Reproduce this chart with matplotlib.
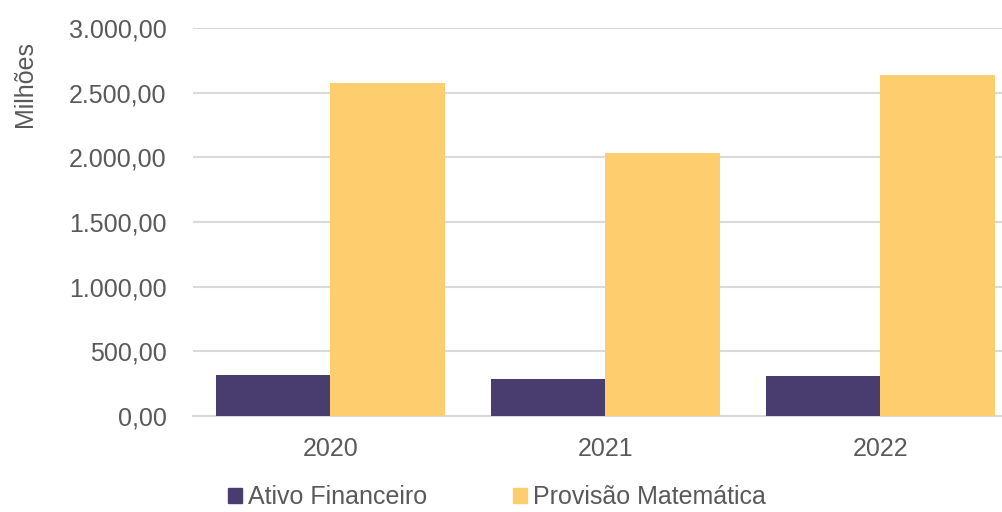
import matplotlib
matplotlib.use("Agg")
import matplotlib.pyplot as plt
from matplotlib.patches import Patch
from matplotlib.ticker import FuncFormatter, MultipleLocator
import numpy as np

anos = ["2020", "2021", "2022"]
ativo_financeiro = [315, 284, 307]
provisao_matematica = [2573, 2031, 2635]
series_nomes = ["Ativo Financeiro", "Provisão Matemática"]

roxo = "#483D6E"
amarelo = "#FECE6E"
cinza_texto = "#595959"
cinza_grade = "#D9D9D9"

plt.rcParams["font.family"] = ["Liberation Sans", "DejaVu Sans"]


def br_fmt(v, pos):
    s = "{:,.2f}".format(v)
    return s.replace(",", "X").replace(".", ",").replace("X", ".")


fig = plt.figure(figsize=(10.03, 5.12), dpi=100)
ax = fig.add_axes([192.8 / 1003, 96 / 512, 825 / 1003, 388 / 512])

x = np.arange(len(anos))
w = 0.416
ax.bar(x - w / 2, ativo_financeiro, width=w, color=roxo, zorder=3)
ax.bar(x + w / 2, provisao_matematica, width=w, color=amarelo, zorder=3)

ax.set_xlim(-0.5, 2.5)
ax.set_ylim(0, 3000)
ax.yaxis.set_major_locator(MultipleLocator(500))
ax.yaxis.set_major_formatter(FuncFormatter(br_fmt))
ax.set_xticks(x)
ax.set_xticklabels(anos)

ax.grid(axis="y", color=cinza_grade, linewidth=1.5, zorder=0)
for s in ["top", "right", "left"]:
    ax.spines[s].set_visible(False)
ax.spines["bottom"].set_color(cinza_grade)
ax.spines["bottom"].set_linewidth(1.5)
ax.tick_params(axis="both", length=0, labelsize=18, colors=cinza_texto)
ax.tick_params(axis="y", pad=19)
ax.tick_params(axis="x", pad=15)

fig.text(25 / 1003, 1 - 84 / 512, "Milhões", rotation=90, ha="center",
         va="center", fontsize=18, color=cinza_texto)

# legenda embaixo, centralizada
handles = [Patch(color=roxo), Patch(color=amarelo)]
fig.legend(handles, series_nomes, loc="center", bbox_to_anchor=(497 / 1003, 1 - 497 / 512),
           ncol=2, frameon=False, fontsize=18, handlelength=0.55, handleheight=0.55,
           handletextpad=0.25, columnspacing=3.45, labelcolor=cinza_texto)

fig.savefig("out.png", dpi=100)
